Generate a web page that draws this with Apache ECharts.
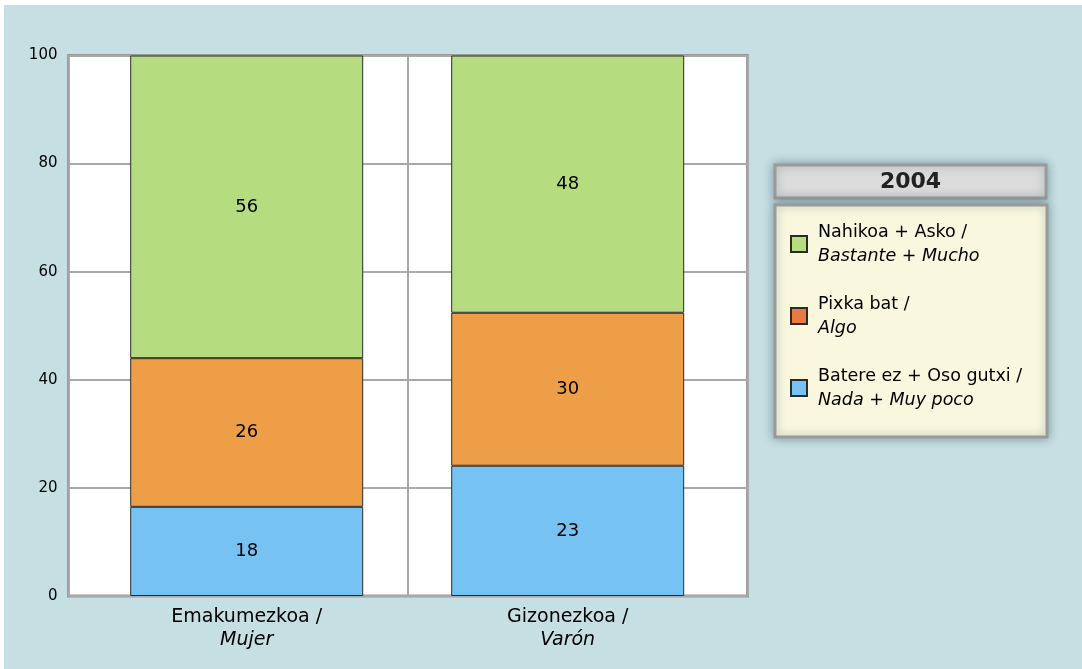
<!DOCTYPE html>
<html>
<head>
<meta charset="utf-8">
<script src="https://cdn.jsdelivr.net/npm/echarts@6/dist/echarts.min.js"></script>
<style>
  body { margin: 0; background: #fff; }
  #chart { position: absolute; left: 4px; top: 5px; width: 1078px; height: 664px; }
</style>
</head>
<body>
<div id="chart"></div>
<script>
// categories (basque / spanish)
const catEu = ['Emakumezkoa /', 'Gizonezkoa /'];
const catEs = ['Mujer', 'Varón'];

// bar heights as drawn in the picture
const lowValues = [16.5, 24.1];
const midValues = [27.5, 28.3];
const highValues = [56.0, 47.6];

// numbers printed on the bars
const lowLabels = [18, 23];
const midLabels = [26, 30];
const highLabels = [56, 48];

const seriesEu = ['Batere ez + Oso gutxi /', 'Pixka bat /', 'Nahikoa + Asko /'];
const seriesEs = ['Nada + Muy poco', 'Algo', 'Bastante + Mucho'];
const yTicks = [0, 20, 40, 60, 80, 100];
const legendYear = '2004';

const font = 'DejaVu Sans';
const colors = ['#76c2f2', '#ef9e48', '#b5dc7e'];
const legendColors = ['#76c2f2', '#e87b42', '#b5dc7e'];

const chart = echarts.init(document.getElementById('chart'));

function makeSeries (i, values, labels) {
    return {
        name: seriesEu[i],
        type: 'bar',
        stack: 'total',
        xAxisIndex: 1,
        yAxisIndex: 1,
        barWidth: 233,
        data: values,
        itemStyle: { color: colors[i], borderColor: '#2a2a2a', borderWidth: 1 },
        label: {
            show: true,
            position: 'inside',
            fontFamily: font,
            fontSize: 18,
            color: '#000',
            formatter: p => String(labels[p.dataIndex])
        }
    };
}

const option = {
    backgroundColor: '#c6dfe3',
    animation: false,
    grid: [
        { left: 64.5, top: 50.5, width: 679, height: 540.5, show: true,
          backgroundColor: '#fff', borderColor: '#9a9a9a', borderWidth: 3 },
        { left: 82.2, top: 50.5, width: 642, height: 540.5 }
    ],
    xAxis: [
        { type: 'category', gridIndex: 0, data: catEu,
          axisLine: { show: false }, axisTick: { show: false }, axisLabel: { show: false },
          splitLine: { show: true, lineStyle: { color: '#a9a9a9', width: 2 } } },
        { type: 'category', gridIndex: 1, data: catEu,
          axisLine: { show: false }, axisTick: { show: false },
          axisLabel: {
              margin: 10,
              formatter: (v, i) => '{a|' + v + '}\n{b|' + catEs[i] + '}',
              rich: {
                  a: { fontFamily: font, fontSize: 19, color: '#000', lineHeight: 23 },
                  b: { fontFamily: font, fontSize: 19, color: '#000', lineHeight: 23, fontStyle: 'italic' }
              }
          } }
    ],
    yAxis: [
        { type: 'value', gridIndex: 0, min: 0, max: 100, interval: 20,
          axisLine: { show: false }, axisTick: { show: false },
          axisLabel: { margin: 11, fontFamily: font, fontSize: 15, color: '#000',
                       formatter: v => yTicks.indexOf(v) >= 0 ? String(v) : '' },
          splitLine: { lineStyle: { color: '#a9a9a9', width: 2 } } },
        { type: 'value', gridIndex: 1, min: 0, max: 100, interval: 20, show: false }
    ],
    legend: {
        orient: 'vertical',
        left: 786,
        top: 218,
        padding: 0,
        itemWidth: 16,
        itemHeight: 16,
        itemGap: 30,
        icon: 'rect',
        data: [2, 1, 0].map(i => ({ name: seriesEu[i], itemStyle: { color: legendColors[i] } })),
        formatter: name => {
            const i = seriesEu.indexOf(name);
            return '{a|' + name + '}\n{b|' + seriesEs[i] + '}';
        },
        textStyle: {
            padding: [0, 0, 0, 6],
            rich: {
                a: { fontFamily: font, fontSize: 17.5, color: '#000', lineHeight: 24 },
                b: { fontFamily: font, fontSize: 17.5, color: '#000', lineHeight: 24, fontStyle: 'italic' }
            }
        }
    },
    graphic: [
        { type: 'rect', z: -1, shape: { x: 771, y: 160, width: 271, height: 33 },
          style: { fill: '#dcdcdc', stroke: '#9a9a9a', lineWidth: 3,
                   shadowBlur: 10, shadowColor: 'rgba(40,70,80,0.4)' } },
        { type: 'text', z: 0, x: 906.5, y: 177,
          style: { text: legendYear, fontFamily: font, fontSize: 22, fontWeight: 'bold',
                   fill: '#222', align: 'center', verticalAlign: 'middle' } },
        { type: 'rect', z: -1, shape: { x: 771, y: 200, width: 272, height: 232 },
          style: { fill: '#f9f8df', stroke: '#9a9a9a', lineWidth: 3,
                   shadowBlur: 10, shadowColor: 'rgba(40,70,80,0.4)' } }
    ],
    series: [
        makeSeries(0, lowValues, lowLabels),
        makeSeries(1, midValues, midLabels),
        makeSeries(2, highValues, highLabels)
    ]
};

chart.setOption(option);
</script>
</body>
</html>
